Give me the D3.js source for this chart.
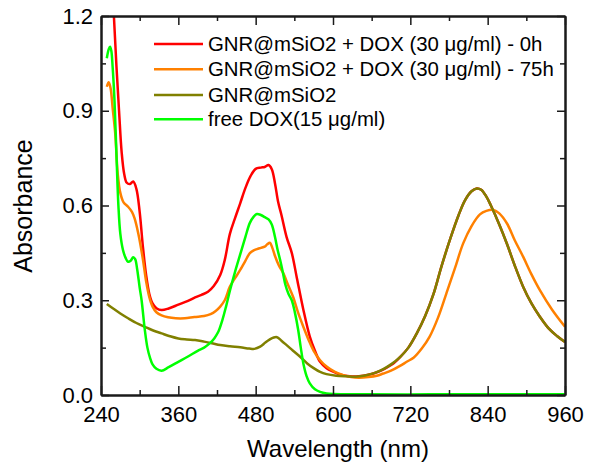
<!DOCTYPE html>
<html>
<head>
<meta charset="utf-8">
<script src="https://cdn.jsdelivr.net/npm/d3@7/dist/d3.min.js"></script>
<style>
  html, body { margin: 0; padding: 0; background: #fff; }
  svg { display: block; font-family: "Liberation Sans", Arial, sans-serif; }
</style>
</head>
<body>
<svg id="chart" width="595" height="463"></svg>
<script>
// UV-Vis-NIR absorbance spectra
const xTicks = [240, 360, 480, 600, 720, 840, 960];
const xMinorTicks = [300, 420, 540, 660, 780, 900];
const yTicks = [0.0, 0.3, 0.6, 0.9, 1.2];
const yMinorTicks = [0.15, 0.45, 0.75, 1.05];

const seriesNames = [
  "GNR@mSiO2 + DOX (30 \u03bcg/ml) - 0h",
  "GNR@mSiO2 + DOX (30 \u03bcg/ml) - 75h",
  "GNR@mSiO2",
  "free DOX(15 \u03bcg/ml)"
];
const seriesColors = ["#ff0000", "#ff8000", "#808000", "#00ff00"];

// GNR@mSiO2 + DOX, 0 h
const wlDox0h = [255, 260, 264, 268, 272, 276, 280, 285, 290, 295, 300, 305, 310, 315, 320, 326, 334, 345, 360, 375, 386, 396, 406, 415, 425, 432, 440, 448, 456, 464, 472, 480, 488, 494, 500, 505, 510, 515, 520, 528, 536, 544, 554, 564, 572, 580, 590, 600, 612, 626, 640, 655, 668, 680, 692, 704, 717, 730, 743, 756, 768, 782, 795, 805, 815, 823, 830, 838, 845, 858, 870, 882, 895, 908, 921, 935, 948, 960];
const absDox0h = [1.40, 1.20, 1.04, 0.90, 0.77, 0.70, 0.672, 0.668, 0.676, 0.652, 0.58, 0.47, 0.38, 0.32, 0.29, 0.275, 0.269, 0.274, 0.286, 0.298, 0.309, 0.317, 0.327, 0.345, 0.38, 0.427, 0.51, 0.56, 0.607, 0.655, 0.693, 0.716, 0.720, 0.722, 0.728, 0.715, 0.67, 0.61, 0.57, 0.50, 0.45, 0.37, 0.27, 0.185, 0.14, 0.105, 0.085, 0.074, 0.064, 0.059, 0.059, 0.064, 0.072, 0.083, 0.097, 0.12, 0.15, 0.195, 0.25, 0.32, 0.405, 0.495, 0.57, 0.617, 0.645, 0.654, 0.65, 0.628, 0.60, 0.54, 0.478, 0.41, 0.343, 0.29, 0.248, 0.21, 0.186, 0.168];

// GNR@mSiO2 + DOX, 75 h
const wlDox75h = [249, 252, 255, 258, 262, 266, 270, 275, 282, 288, 292, 298, 305, 310, 315, 320, 326, 334, 344, 356, 370, 385, 400, 410, 418, 425, 432, 440, 448, 456, 464, 471, 477, 482, 488, 494, 498, 502, 506, 510, 516, 523, 530, 538, 546, 554, 562, 570, 580, 590, 603, 616, 628, 640, 655, 668, 678, 690, 704, 715, 725, 738, 750, 763, 776, 789, 802, 815, 828, 838, 849, 858, 870, 882, 895, 908, 921, 940, 960];
const absDox75h = [0.976, 0.99, 0.97, 0.91, 0.83, 0.70, 0.64, 0.61, 0.596, 0.58, 0.56, 0.51, 0.43, 0.36, 0.31, 0.28, 0.262, 0.252, 0.246, 0.243, 0.243, 0.247, 0.25, 0.256, 0.266, 0.28, 0.30, 0.343, 0.37, 0.396, 0.425, 0.449, 0.458, 0.462, 0.466, 0.47, 0.477, 0.482, 0.465, 0.44, 0.41, 0.385, 0.35, 0.311, 0.26, 0.216, 0.175, 0.14, 0.11, 0.09, 0.073, 0.063, 0.057, 0.055, 0.057, 0.061, 0.068, 0.077, 0.092, 0.106, 0.118, 0.148, 0.185, 0.245, 0.322, 0.40, 0.48, 0.535, 0.572, 0.583, 0.586, 0.575, 0.543, 0.49, 0.438, 0.382, 0.332, 0.27, 0.216];

// GNR@mSiO2
const wlGnr = [249, 260, 270, 282, 295, 308, 320, 334, 347, 360, 373, 386, 400, 412, 425, 440, 456, 470, 478, 487, 495, 502, 508, 513, 520, 528, 538, 549, 560, 570, 580, 590, 605, 621, 635, 650, 665, 678, 690, 704, 717, 730, 743, 756, 768, 782, 795, 805, 815, 823, 830, 838, 845, 858, 870, 882, 895, 908, 921, 935, 948, 960];
const absGnr = [0.288, 0.272, 0.258, 0.243, 0.228, 0.216, 0.205, 0.195, 0.186, 0.179, 0.176, 0.174, 0.169, 0.164, 0.158, 0.154, 0.151, 0.147, 0.146, 0.153, 0.166, 0.176, 0.182, 0.183, 0.172, 0.158, 0.14, 0.121, 0.10, 0.085, 0.073, 0.066, 0.061, 0.059, 0.058, 0.062, 0.07, 0.082, 0.097, 0.12, 0.15, 0.195, 0.25, 0.32, 0.405, 0.495, 0.57, 0.617, 0.645, 0.654, 0.65, 0.628, 0.60, 0.54, 0.478, 0.41, 0.343, 0.29, 0.248, 0.21, 0.186, 0.168];

// free DOX
const wlDox = [249, 252, 254, 256, 258, 261, 264, 267, 270, 274, 278, 282, 286, 290, 293, 296, 300, 303, 308, 312, 316, 320, 326, 334, 345, 360, 375, 390, 400, 409, 416, 422, 428, 434, 440, 448, 456, 464, 471, 477, 482, 488, 494, 500, 505, 510, 514, 518, 522, 526, 531, 536, 541, 546, 550, 554, 559, 564, 572, 580, 590, 600, 650, 750, 850, 960];
const absDox = [1.066, 1.095, 1.103, 1.09, 1.04, 0.93, 0.76, 0.60, 0.51, 0.46, 0.435, 0.422, 0.425, 0.436, 0.43, 0.40, 0.34, 0.30, 0.206, 0.15, 0.118, 0.097, 0.083, 0.077, 0.088, 0.105, 0.122, 0.14, 0.15, 0.164, 0.18, 0.20, 0.235, 0.28, 0.33, 0.39, 0.445, 0.50, 0.545, 0.565, 0.573, 0.57, 0.563, 0.556, 0.54, 0.50, 0.46, 0.427, 0.39, 0.35, 0.32, 0.30, 0.26, 0.206, 0.15, 0.10, 0.06, 0.037, 0.018, 0.01, 0.005, 0.003, 0.002, 0.002, 0.002, 0.002];

const seriesWl = [wlDox0h, wlDox75h, wlGnr, wlDox];
const seriesAbs = [absDox0h, absDox75h, absGnr, absDox];

const svg = d3.select("#chart");
const x = d3.scaleLinear().domain([240, 960]).range([101, 565]);
const y = d3.scaleLinear().domain([0, 1.2]).range([395, 16]);

const fmt = d3.format(".1f");

// clip region for the spectra
svg.append("defs").append("clipPath").attr("id", "plot-clip")
  .append("rect")
  .attr("x", x.range()[0]).attr("y", y.range()[1])
  .attr("width", x.range()[1] - x.range()[0])
  .attr("height", y.range()[0] - y.range()[1]);

const line = d3.line()
  .x(d => x(d[0]))
  .y(d => y(d[1]))
  .curve(d3.curveCatmullRom.alpha(0.5));

const curves = svg.append("g").attr("clip-path", "url(#plot-clip)");
seriesWl.forEach((wl, i) => {
  const pts = wl.map((w, k) => [w, seriesAbs[i][k]]);
  curves.append("path")
    .datum(pts)
    .attr("fill", "none")
    .attr("stroke", seriesColors[i])
    .attr("stroke-width", 2.5)
    .attr("stroke-linejoin", "round")
    .attr("d", line);
});

// axes with inward ticks on all four sides
const axisColor = "#1a1a1a";
function styleAxis(g) {
  g.selectAll(".domain").attr("stroke", axisColor).attr("stroke-width", 2);
  g.selectAll(".tick line").attr("stroke", axisColor).attr("stroke-width", 1.5);
  g.selectAll("text").attr("fill", "#000");
}

const yb = y.range()[0], yt = y.range()[1];
const xl = x.range()[0], xr = x.range()[1];

svg.append("g").attr("transform", `translate(0,${yb})`)
  .call(d3.axisBottom(x).tickValues(xMinorTicks).tickSize(-5).tickSizeOuter(0).tickFormat(""))
  .call(styleAxis);
svg.append("g").attr("transform", `translate(0,${yb})`)
  .call(d3.axisBottom(x).tickValues(xTicks).tickSize(-9).tickSizeOuter(0).tickPadding(11).tickFormat(d3.format("d")))
  .call(styleAxis)
  .selectAll("text").attr("font-size", 22);

svg.append("g").attr("transform", `translate(0,${yt})`)
  .call(d3.axisTop(x).tickValues(xMinorTicks).tickSize(-5).tickSizeOuter(0).tickFormat(""))
  .call(styleAxis);
svg.append("g").attr("transform", `translate(0,${yt})`)
  .call(d3.axisTop(x).tickValues(xTicks).tickSize(-9).tickSizeOuter(0).tickFormat(""))
  .call(styleAxis);

svg.append("g").attr("transform", `translate(${xl},0)`)
  .call(d3.axisLeft(y).tickValues(yMinorTicks).tickSize(-5).tickSizeOuter(0).tickFormat(""))
  .call(styleAxis);
svg.append("g").attr("transform", `translate(${xl},0)`)
  .call(d3.axisLeft(y).tickValues(yTicks).tickSize(-8).tickSizeOuter(0).tickPadding(8).tickFormat(fmt))
  .call(styleAxis)
  .selectAll("text").attr("font-size", 22);

svg.append("g").attr("transform", `translate(${xr},0)`)
  .call(d3.axisRight(y).tickValues(yMinorTicks).tickSize(-5).tickSizeOuter(0).tickFormat(""))
  .call(styleAxis);
svg.append("g").attr("transform", `translate(${xr},0)`)
  .call(d3.axisRight(y).tickValues(yTicks).tickSize(-8).tickSizeOuter(0).tickFormat(""))
  .call(styleAxis);

// axis titles
svg.append("text")
  .attr("x", 338).attr("y", 457)
  .attr("text-anchor", "middle")
  .attr("font-size", 24)
  .text("Wavelength (nm)");

svg.append("text")
  .attr("transform", "translate(32,206) rotate(-90)")
  .attr("text-anchor", "middle")
  .attr("font-size", 25)
  .text("Absorbance");

// legend
const legend = svg.append("g");
const rowY = [44, 69.3, 95, 119.3];
seriesNames.forEach((name, i) => {
  const g = legend.append("g").attr("transform", `translate(0,${rowY[i]})`);
  g.append("line")
    .attr("x1", 154).attr("x2", 203)
    .attr("y1", 0).attr("y2", 0)
    .attr("stroke", seriesColors[i])
    .attr("stroke-width", 2.5);
  g.append("text")
    .attr("x", 208).attr("y", 7)
    .attr("font-size", 20.4)
    .text(name);
});
</script>
</body>
</html>
